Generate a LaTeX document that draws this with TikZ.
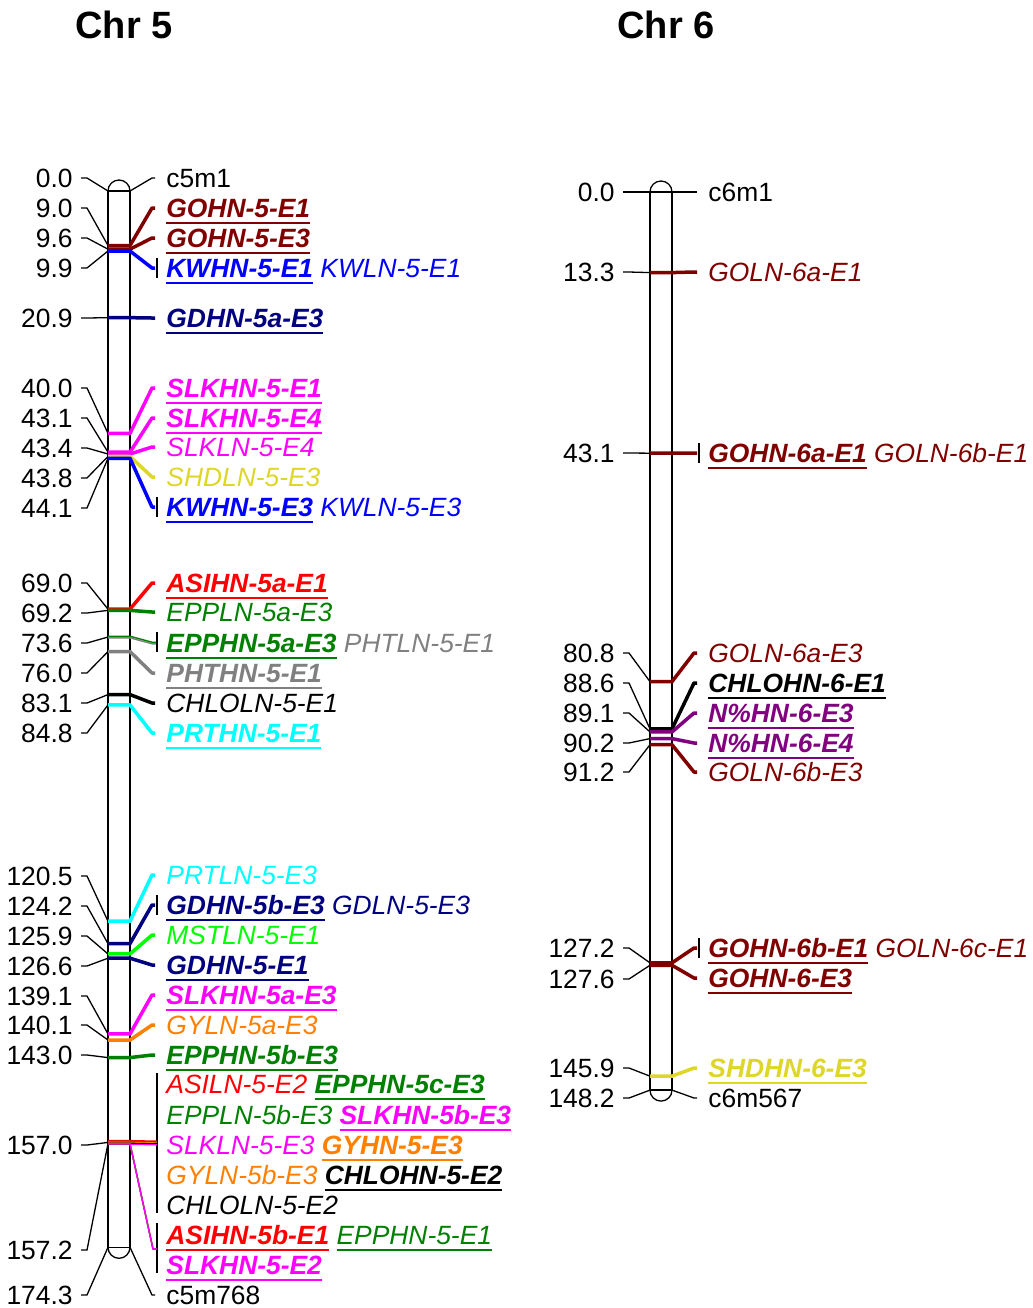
\documentclass[tikz,border=0pt]{standalone}
\usepackage{fontspec}
\setmainfont{Liberation Sans}
\usepackage{xcolor}

\definecolor{darkred}{RGB}{128,0,0}
\definecolor{navyblue}{RGB}{0,0,128}
\definecolor{qgreen}{RGB}{0,128,0}
\definecolor{limegreen}{RGB}{0,255,0}
\definecolor{qyellow}{RGB}{222,214,40}
\definecolor{qorange}{RGB}{255,128,0}
\definecolor{qpurple}{RGB}{128,0,128}
\definecolor{qgrey}{RGB}{128,128,128}
\definecolor{qmagenta}{RGB}{255,0,255}
\definecolor{qcyan}{RGB}{0,255,255}
\definecolor{qblue}{RGB}{0,0,255}
\definecolor{qred}{RGB}{255,0,0}

% underlined labels for the HN loci
\newcommand{\hnlab}[1]{{\bfseries\itshape\setbox0=\hbox{#1}\rlap{\rule[-3.5pt]{\wd0}{1.35pt}}\box0}}
\newcommand{\hnitlab}[1]{{\itshape\setbox0=\hbox{#1}\rlap{\rule[-3.5pt]{\wd0}{1.35pt}}\box0}}
\newcommand{\lnlab}[1]{{\itshape #1}}

\tikzset{
  poslab/.style={anchor=east, inner sep=0pt, text height=9.4pt, text depth=0pt, font=\fontsize{13.2}{15}\selectfont},
  loclab/.style={anchor=west, inner sep=0pt, text height=9.4pt, text depth=0pt, font=\fontsize{13.2}{15}\selectfont},
  chrtitle/.style={font=\bfseries\fontsize{19}{22}\selectfont},
  chrom/.style={line width=0.65pt},
  conn/.style={line width=0.65pt},
  qtlline/.style={line width=1.75pt, line join=round},
  thinqtl/.style={line width=0.7pt, line join=round},
}

\begin{document}
\begin{tikzpicture}[x=0.5pt,y=-0.5pt]
\useasboundingbox (0,0) rectangle (1033,1308);

\node[chrtitle] (t5) at (124,25) {Chr 5};
\node[chrtitle] (t6) at (666,25) {Chr 6};

% Chr 5
\draw[chrom] (108,191) rectangle (130,1247.3);
\draw[chrom] (108,191) arc[start angle=180, end angle=0, radius=5.5pt];
\draw[chrom] (108,1247.3) arc[start angle=180, end angle=360, radius=5.5pt];

\foreach \pos/\yl [count=\i] in {0.0/178, 9.0/208, 9.6/238, 9.9/268, 20.9/318, 40.0/388, 43.1/418, 43.4/448, 43.8/478, 44.1/508, 69.0/583, 69.2/613, 73.6/643, 76.0/673, 83.1/703, 84.8/733, 120.5/876, 124.2/906, 125.9/936, 126.6/966, 139.1/996, 140.1/1025, 143.0/1055, 157.0/1145, 157.2/1250, 174.3/1295}{
  \node[poslab] (p5-\i) at (73,\yl) {\pos};
  \coordinate (a5-\i) at (108,{191+6.06*\pos});
  \draw[conn] ([xshift=4pt]p5-\i.east) -- ++(3pt,0) -- (a5-\i);
}

\foreach \pos/\yl/\col/\br/\txt [count=\i] in {
  9.0/208/darkred/0/{\hnlab{GOHN-5-E1}},
  9.6/238/darkred/0/{\hnlab{GOHN-5-E3}},
  9.9/268/qblue/1/{\hnlab{KWHN-5-E1} \lnlab{KWLN-5-E1}},
  20.9/318/navyblue/0/{\hnlab{GDHN-5a-E3}},
  40.0/388/qmagenta/0/{\hnlab{SLKHN-5-E1}},
  43.1/418/qmagenta/0/{\hnlab{SLKHN-5-E4}},
  43.4/447/qmagenta/0/{\lnlab{SLKLN-5-E4}},
  43.8/477/qyellow/0/{\lnlab{SHDLN-5-E3}},
  44.1/507/qblue/1/{\hnlab{KWHN-5-E3} \lnlab{KWLN-5-E3}},
  69.0/583/qred/0/{\hnlab{ASIHN-5a-E1}},
  69.2/612/qgreen/0/{\lnlab{EPPLN-5a-E3}},
  76.0/673/qgrey/0/{\hnlab{PHTHN-5-E1}},
  83.1/703/black/0/{\lnlab{CHLOLN-5-E1}},
  84.8/733/qcyan/0/{\hnlab{PRTHN-5-E1}},
  120.5/875/qcyan/0/{\lnlab{PRTLN-5-E3}},
  124.2/905/navyblue/1/{\hnlab{GDHN-5b-E3} \lnlab{GDLN-5-E3}},
  125.9/935/limegreen/0/{\lnlab{MSTLN-5-E1}},
  126.6/965/navyblue/0/{\hnlab{GDHN-5-E1}},
  139.1/995/qmagenta/0/{\hnlab{SLKHN-5a-E3}},
  140.1/1025/qorange/0/{\lnlab{GYLN-5a-E3}},
  143.0/1055/qgreen/0/{\hnlab{EPPHN-5b-E3}}}{
  \coordinate (m5-\i) at (108,{191+6.06*\pos});
  \node[loclab, text=\col] (r5-\i) at (166,\yl) {\txt};
  \draw[qtlline, \col] (m5-\i) -- ++(11pt,0) -- ([xshift=-7pt]r5-\i.west) -- ([xshift=-5.5pt]r5-\i.west);
  \ifnum\br=1
    \draw[conn] ([xshift=-4.5pt,yshift=5pt]r5-\i.west) -- ([xshift=-4.5pt,yshift=-5pt]r5-\i.west);
  \fi
}

% two loci at 73.6
\node[loclab, text=qgreen] (r5-ep) at (166,643) {\hnlab{EPPHN-5a-E3} \textcolor{qgrey}{\lnlab{PHTLN-5-E1}}};
\draw[thinqtl, qgrey] ([yshift=-0.4pt]a5-13) -- ++(11pt,0) -- ([xshift=-7pt,yshift=-0.4pt]r5-ep.west) -- ([xshift=-4.5pt,yshift=-0.4pt]r5-ep.west);
\draw[thinqtl, qgreen] ([yshift=0.4pt]a5-13) -- ++(11pt,0) -- ([xshift=-7pt,yshift=0.4pt]r5-ep.west) -- ([xshift=-4.5pt,yshift=0.4pt]r5-ep.west);
\draw[conn] ([xshift=-4.5pt,yshift=5.5pt]r5-ep.west) -- ([xshift=-4.5pt,yshift=-4.5pt]r5-ep.west);

% groups at 157.0 and 157.2
\foreach \yl/\txt [count=\k] in {
  1084/{\textcolor{qred}{\lnlab{ASILN-5-E2}} \textcolor{qgreen}{\hnlab{EPPHN-5c-E3}}},
  1115/{\textcolor{qgreen}{\lnlab{EPPLN-5b-E3}} \textcolor{qmagenta}{\hnlab{SLKHN-5b-E3}}},
  1145/{\textcolor{qmagenta}{\lnlab{SLKLN-5-E3}} \textcolor{qorange}{\hnlab{GYHN-5-E3}}},
  1175/{\textcolor{qorange}{\lnlab{GYLN-5b-E3}} \hnlab{CHLOHN-5-E2}},
  1205/{\lnlab{CHLOLN-5-E2}}}{
  \node[loclab] (g5-\k) at (166,\yl) {\txt};
}
\foreach \yl/\txt [count=\k] in {
  1235/{\textcolor{qred}{\hnlab{ASIHN-5b-E1}} \textcolor{qgreen}{\hnitlab{EPPHN-5-E1}}},
  1265/{\textcolor{qmagenta}{\hnlab{SLKHN-5-E2}}}}{
  \node[loclab] (h5-\k) at (166,\yl) {\txt};
}
\coordinate (b5-a) at (157,1143);
\coordinate (b5-b) at (157,1249);
\draw[conn] ([xshift=-4.5pt,yshift=5.5pt]g5-1.west) -- ([xshift=-4.5pt,yshift=-4pt]g5-5.west);
\draw[conn] ([xshift=-4.5pt,yshift=6pt]h5-1.west) -- ([xshift=-4.5pt,yshift=-4pt]h5-2.west);
\foreach \col [count=\k] in {qred,qgreen,qorange,black,qmagenta}
  \draw[thinqtl, \col] ([yshift={(3-\k)*0.45pt}]a5-24) -- ++(11pt,0) -- ([yshift={(3-\k)*0.45pt}]b5-a);
\foreach \col in {qred,qgreen,qmagenta}
  \draw[thinqtl, \col] (a5-25) -- ++(11pt,0) -- ([xshift=-2pt]b5-b) -- (b5-b);

% ends of Chr 5
\node[loclab] (r5-top) at (166,178) {c5m1};
\draw[conn] ([xshift=11pt]a5-1) -- ([xshift=-7pt]r5-top.west) -- ([xshift=-5.5pt]r5-top.west);
\node[loclab] (r5-bot) at (166,1295) {c5m768};
\draw[conn] ([xshift=11pt]a5-26) -- ([xshift=-7pt]r5-bot.west) -- ([xshift=-5.5pt]r5-bot.west);

% Chr 6
\draw[chrom] (650,192) rectangle (672,1090.1);
\draw[chrom] (650,192) arc[start angle=180, end angle=0, radius=5.5pt];
\draw[chrom] (650,1090.1) arc[start angle=180, end angle=360, radius=5.5pt];

\foreach \pos/\yl [count=\i] in {0.0/192, 13.3/272, 43.1/453, 80.8/653, 88.6/683, 89.1/713, 90.2/743, 91.2/772, 127.2/948, 127.6/979, 145.9/1068, 148.2/1098}{
  \node[poslab] (p6-\i) at (615,\yl) {\pos};
  \coordinate (a6-\i) at (650,{192+6.06*\pos});
  \draw[conn] ([xshift=4pt]p6-\i.east) -- ++(3pt,0) -- (a6-\i);
}

\foreach \pos/\yl/\col/\br/\txt [count=\i] in {
  13.3/272/darkred/0/{\lnlab{GOLN-6a-E1}},
  43.1/453/darkred/1/{\hnlab{GOHN-6a-E1} \lnlab{GOLN-6b-E1}},
  80.8/653/darkred/0/{\lnlab{GOLN-6a-E3}},
  88.6/683/black/0/{\hnlab{CHLOHN-6-E1}},
  89.1/713/qpurple/0/{\hnlab{N\%HN-6-E3}},
  90.2/743/qpurple/0/{\hnlab{N\%HN-6-E4}},
  91.2/772/darkred/0/{\lnlab{GOLN-6b-E3}},
  127.2/948/darkred/1/{\hnlab{GOHN-6b-E1} \lnlab{GOLN-6c-E1}},
  127.6/978/darkred/0/{\hnlab{GOHN-6-E3}},
  145.9/1068/qyellow/0/{\hnlab{SHDHN-6-E3}}}{
  \coordinate (m6-\i) at (650,{192+6.06*\pos});
  \node[loclab, text=\col] (r6-\i) at (708,\yl) {\txt};
  \draw[qtlline, \col] (m6-\i) -- ++(11pt,0) -- ([xshift=-7pt]r6-\i.west) -- ([xshift=-5.5pt]r6-\i.west);
  \ifnum\br=1
    \draw[conn] ([xshift=-4.5pt,yshift=5pt]r6-\i.west) -- ([xshift=-4.5pt,yshift=-5pt]r6-\i.west);
  \fi
}

% ends of Chr 6
\node[loclab] (r6-top) at (708,192) {c6m1};
\draw[conn] ([xshift=11pt]a6-1) -- ([xshift=-7pt]r6-top.west) -- ([xshift=-5.5pt]r6-top.west);
\node[loclab] (r6-bot) at (708,1098) {c6m567};
\draw[conn] ([xshift=11pt]a6-12) -- ([xshift=-7pt]r6-bot.west) -- ([xshift=-5.5pt]r6-bot.west);
\end{tikzpicture}
\end{document}
